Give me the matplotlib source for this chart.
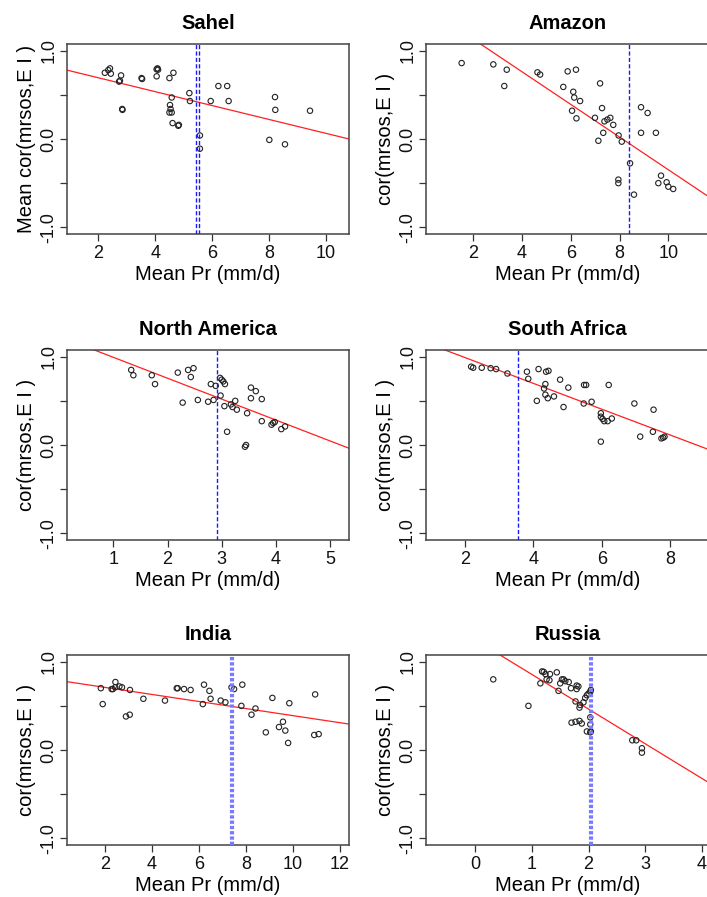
import matplotlib
matplotlib.use("Agg")
import matplotlib.pyplot as plt
import numpy as np

plt.rcParams['font.family'] = ['Liberation Sans', 'DejaVu Sans']
plt.rcParams['lines.scale_dashes'] = False

# ---------------- data ----------------
titles = ["Sahel", "Amazon", "North America", "South Africa", "India", "Russia"]

sahel_x = [2.23, 2.35, 2.41, 2.44, 2.73, 2.76, 2.80, 2.84, 2.85, 3.52, 3.54, 4.05, 4.08, 4.10,
           4.05, 4.50, 4.64, 4.58, 4.52, 4.54, 4.50, 4.58, 4.61, 4.81, 4.83, 5.20, 5.22, 5.57,
           5.57, 5.95, 6.22, 6.53, 6.58, 8.01, 8.21, 8.22, 8.56, 9.44]
sahel_y = [0.75, 0.78, 0.80, 0.74, 0.65, 0.66, 0.72, 0.34, 0.33, 0.69, 0.68, 0.79, 0.80, 0.785,
           0.71, 0.69, 0.75, 0.47, 0.385, 0.34, 0.30, 0.30, 0.18, 0.15, 0.16, 0.52, 0.43, 0.04,
           -0.11, 0.43, 0.60, 0.60, 0.43, -0.01, 0.475, 0.33, -0.06, 0.32]

amazon_x = [1.52, 2.82, 3.37, 3.27, 4.63, 4.74, 5.87, 6.21, 5.69, 6.10, 6.14, 6.38, 7.20, 6.05,
            6.23, 7.28, 6.99, 7.38, 7.50, 7.62, 7.74, 7.33, 7.13, 7.96, 8.09, 8.43, 7.95, 7.95,
            8.59, 8.88, 9.15, 8.88, 9.49, 9.70, 9.59, 9.93, 10.00, 10.20]
amazon_y = [0.86, 0.845, 0.785, 0.60, 0.755, 0.73, 0.766, 0.785, 0.59, 0.535, 0.47, 0.43, 0.63,
            0.32, 0.234, 0.35, 0.24, 0.20, 0.22, 0.24, 0.16, 0.07, -0.02, 0.04, -0.03, -0.275,
            -0.46, -0.50, -0.63, 0.36, 0.295, 0.07, 0.07, -0.415, -0.50, -0.49, -0.54, -0.566]

na_x = [1.33, 1.37, 1.71, 1.77, 2.19, 2.38, 2.48, 2.43, 2.28, 2.56, 2.75, 2.85, 2.80, 2.89,
        2.97, 3.00, 3.03, 3.06, 2.98, 3.05, 3.17, 3.20, 3.25, 3.28, 3.10, 3.47, 3.43, 3.45,
        3.54, 3.63, 3.54, 3.74, 3.74, 3.92, 3.95, 3.98, 4.10, 4.17]
na_y = [0.85, 0.79, 0.79, 0.69, 0.82, 0.85, 0.87, 0.77, 0.48, 0.51, 0.49, 0.51, 0.69, 0.67,
        0.76, 0.74, 0.72, 0.69, 0.56, 0.44, 0.46, 0.43, 0.50, 0.40, 0.15, 0.36, -0.02, 0.00,
        0.65, 0.61, 0.53, 0.52, 0.27, 0.23, 0.25, 0.26, 0.18, 0.21]

sa_x = [2.18, 2.24, 2.49, 2.75, 2.91, 3.24, 3.81, 3.85, 4.15, 4.37, 4.44, 4.35, 4.31, 4.35,
        4.42, 4.10, 4.60, 4.78, 5.02, 4.88, 5.48, 5.54, 5.47, 5.70, 6.20, 5.97, 5.97, 6.02,
        6.07, 6.17, 6.29, 5.97, 6.95, 7.51, 7.12, 7.49, 7.74, 7.79, 7.83]
sa_y = [0.887, 0.875, 0.875, 0.87, 0.86, 0.81, 0.83, 0.75, 0.86, 0.83, 0.84, 0.69, 0.64, 0.57,
        0.53, 0.50, 0.55, 0.74, 0.65, 0.43, 0.68, 0.68, 0.47, 0.49, 0.68, 0.36, 0.32, 0.295,
        0.27, 0.27, 0.30, 0.038, 0.47, 0.40, 0.095, 0.15, 0.075, 0.083, 0.094]

india_x = [1.82, 1.90, 2.28, 2.33, 2.44, 2.61, 2.72, 2.43, 2.89, 3.05, 3.06, 3.63, 4.55, 5.05,
           5.09, 5.36, 5.64, 6.21, 6.16, 6.44, 6.49, 6.92, 7.12, 7.38, 7.49, 7.84, 7.80, 8.23,
           8.40, 8.84, 9.12, 9.40, 9.57, 9.67, 9.84, 9.79, 10.94, 10.90, 11.09]
india_y = [0.70, 0.52, 0.69, 0.69, 0.77, 0.72, 0.71, 0.71, 0.38, 0.40, 0.68, 0.58, 0.56, 0.70,
           0.70, 0.69, 0.68, 0.74, 0.52, 0.67, 0.58, 0.56, 0.54, 0.71, 0.69, 0.74, 0.50, 0.40,
           0.47, 0.20, 0.59, 0.26, 0.32, 0.22, 0.53, 0.08, 0.63, 0.17, 0.18]

russia_x = [0.32, 0.94, 1.15, 1.18, 1.21, 1.24, 1.26, 1.31, 1.32, 1.44, 1.47, 1.53, 1.56, 1.59,
            1.50, 1.65, 1.69, 1.79, 1.82, 1.77, 1.79, 1.84, 1.85, 1.91, 1.94, 1.97, 2.00, 2.03,
            2.04, 1.70, 1.77, 1.84, 1.88, 1.97, 2.03, 2.04, 2.03, 2.03, 2.77, 2.84, 2.94, 2.94]
russia_y = [0.80, 0.50, 0.755, 0.89, 0.885, 0.86, 0.80, 0.79, 0.86, 0.88, 0.67, 0.80, 0.80, 0.78,
            0.755, 0.77, 0.70, 0.73, 0.72, 0.55, 0.69, 0.48, 0.51, 0.54, 0.59, 0.62, 0.64, 0.66,
            0.68, 0.31, 0.32, 0.33, 0.30, 0.21, 0.20, 0.21, 0.37, 0.29, 0.11, 0.11, 0.02, -0.03]

xs = [sahel_x, amazon_x, na_x, sa_x, india_x, russia_x]
ys = [sahel_y, amazon_y, na_y, sa_y, india_y, russia_y]

# regression lines (intercept, slope)
intercepts = [0.851, 1.50, 1.23, 1.283, 0.789, 1.249]
slopes = [-0.0787, -0.1848, -0.2368, -0.1463, -0.040, -0.393]

# vertical marker lines (x positions)
vlines = [[5.44, 5.54], [8.37], [2.92], [3.56], [7.40], [2.05]]
vstyles = ["double", "dash", "dash", "dash", "dot", "dot"]

xlims = [(0.90, 10.81), (0.07, 11.64), (0.145, 5.35), (0.87, 9.11), (0.38, 12.38), (-0.86, 4.11)]
xticks = [[2, 4, 6, 8, 10], [2, 4, 6, 8, 10], [1, 2, 3, 4, 5], [2, 4, 6, 8],
          [2, 4, 6, 8, 10, 12], [0, 1, 2, 3, 4]]
yticks = [-1.0, -0.5, 0.0, 0.5, 1.0]
yticklabels = ["-1.0", "", "0.0", "", "1.0"]
ylabels = ["Mean cor(mrsos,E I )"] + ["cor(mrsos,E I )"] * 5
xlabel = "Mean Pr (mm/d)"

# ---------------- figure ----------------
W, H = 707, 897
fig = plt.figure(figsize=(W / 100, H / 100), dpi=100)

col_left = [67, 426.3]
col_w = 282
row_top = [44, 350, 655]
row_h = 190

for i in range(6):
    r, c = divmod(i, 2)
    left = col_left[c] / W
    bottom = (H - row_top[r] - row_h) / H
    ax = fig.add_axes([left, bottom, col_w / W, row_h / H])
    ax.set_xlim(*xlims[i])
    ax.set_ylim(-1.076, 1.076)

    ax.scatter(xs[i], ys[i], s=15, facecolors='none', edgecolors='#222222',
               linewidths=0.8, zorder=3)

    xl = np.array(xlims[i])
    ax.plot(xl, intercepts[i] + slopes[i] * xl, color='#ff2020', lw=0.9, zorder=2)

    for xv in vlines[i]:
        if vstyles[i] in ("dash", "double"):
            ax.axvline(xv, color='#1a1aff', lw=1.0, dashes=(3.0, 1.6), zorder=4)
        else:
            ax.axvline(xv, color='#7a7aff', lw=3.0, dashes=(2.4, 1.4), zorder=4)

    ax.set_xticks(xticks[i])
    ax.set_xticklabels([str(t) for t in xticks[i]])
    ax.set_yticks(yticks)
    ax.set_yticklabels(yticklabels)
    for lab in ax.get_yticklabels():
        lab.set_rotation(90)
        lab.set_va('center')
    ax.tick_params(axis='both', direction='out', length=5, width=0.9, color='#333333',
                   labelsize=13, labelcolor='#111111')
    ax.tick_params(axis='x', pad=3)
    ax.tick_params(axis='y', pad=2)
    for sp in ax.spines.values():
        sp.set_color('#444444')
        sp.set_linewidth(1.1)

    ax.set_title(titles[i], fontsize=14.5, fontweight='bold', pad=11)
    ax.set_xlabel(xlabel, fontsize=14.5, labelpad=2)
    ax.set_ylabel(ylabels[i], fontsize=14.5, labelpad=3)

fig.savefig("out.png", dpi=100)
